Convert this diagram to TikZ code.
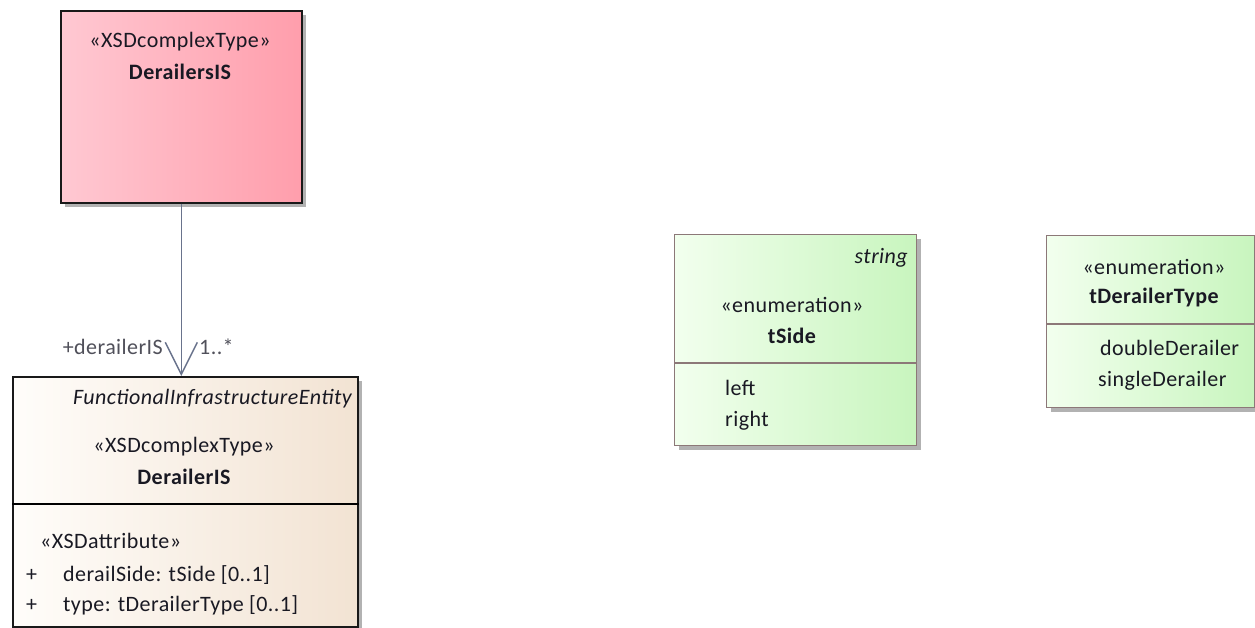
\documentclass[tikz,border=0pt]{standalone}
\usepackage{fontspec}
\setmainfont{Carlito}[LetterSpace=2]
\usetikzlibrary{arrows.meta,shadows}
\definecolor{pinkL}{RGB}{255,200,210}
\definecolor{pinkR}{RGB}{255,158,172}
\definecolor{beigeL}{RGB}{255,253,250}
\definecolor{beigeR}{RGB}{242,227,211}
\definecolor{greenL}{RGB}{242,255,238}
\definecolor{greenR}{RGB}{200,245,190}
\definecolor{enumBorder}{RGB}{140,120,120}
\definecolor{connCol}{RGB}{105,115,140}
\definecolor{lblCol}{RGB}{80,80,90}
\definecolor{txtCol}{RGB}{25,25,35}
\tikzset{
  umlbox/.style={draw=black!90, line width=1.6pt, inner sep=0pt, anchor=north west,
    drop shadow={shadow xshift=4pt, shadow yshift=-4pt, fill=black!30, opacity=1}},
  enumbox/.style={umlbox, draw=enumBorder, line width=1.4pt, left color=greenL, right color=greenR},
  divider/.style={line width=1.4pt},
  txt/.style={inner sep=0pt, text=txtCol, font=\fontsize{22}{26}\selectfont},
  btxt/.style={txt, font=\fontsize{22}{26}\selectfont\bfseries},
  itxt/.style={txt, font=\fontsize{22}{26}\selectfont\itshape},
  lbl/.style={inner sep=0pt, text=lblCol, font=\fontsize{22}{26}\selectfont},
  conn/.style={draw=connCol, line width=1.5pt, -{Straight Barb[length=32pt,width=32pt,line width=1.5pt]}},
}
\begin{document}
\begin{tikzpicture}[x=1pt,y=-1pt]
\useasboundingbox (0,0) rectangle (1255,628);
\clip (0,0) rectangle (1255,628);
\fill[white] (0,0) rectangle (1255,628);

% DerailersIS
\node[umlbox, left color=pinkL, right color=pinkR, minimum width=241pt, minimum height=192pt] (dsis) at (60,10) {};
\node[txt] (dsisSt) at (180,42) {«XSDcomplexType»};
\node[btxt] (dsisNm) at (180,72) {DerailersIS};

% DerailerIS
\node[umlbox, left color=beigeL, right color=beigeR, minimum width=345pt, minimum height=250pt] (dis) at (12,376) {};
\node[itxt, anchor=east] (disPar) at (352,399) {FunctionalInfrastructureEntity};
\node[txt] (disSt) at (184,447) {«XSDcomplexType»};
\node[btxt] (disNm) at (184,477) {DerailerIS};
\draw[divider] (dis.west |- 0,504) -- (dis.east |- 0,504);
\node[txt, anchor=west] (disAttSt) at (40,541) {«XSDattribute»};
\node[txt, anchor=west] (disP1) at (26,575) {+};
\node[txt, anchor=west] (disA1) at (63,575) {derailSide: tSide [0..1]};
\node[txt, anchor=west] (disP2) at (26,605) {+};
\node[txt, anchor=west] (disA2) at (63,605) {type: tDerailerType [0..1]};

% connector
\draw[conn] (dsis.south) -- (dsis.south |- dis.north);
\node[lbl, anchor=east] (roleLbl) at (163,347) {+derailerIS};
\node[lbl, anchor=west] (multLbl) at (199,347) {1..*};

% tSide
\node[enumbox, minimum width=242pt, minimum height=211pt] (ts) at (674,234) {};
\node[itxt, anchor=east] (tsPar) at (908,258) {string};
\node[txt] (tsSt) at (792,305) {«enumeration»};
\node[btxt] (tsNm) at (792,336) {tSide};
\draw[divider, draw=enumBorder] (ts.west |- 0,363) -- (ts.east |- 0,363);
\node[txt, anchor=west] (tsL1) at (725,388) {left};
\node[txt, anchor=west] (tsL2) at (725,421) {right};

% tDerailerType
\node[enumbox, minimum width=208pt, minimum height=172pt] (tdt) at (1046,235) {};
\node[txt] (tdtSt) at (1154,267) {«enumeration»};
\node[btxt] (tdtNm) at (1154,298) {tDerailerType};
\draw[divider, draw=enumBorder] (tdt.west |- 0,324) -- (tdt.east |- 0,324);
\node[txt, anchor=west] (tdtL1) at (1100,348) {doubleDerailer};
\node[txt, anchor=west] (tdtL2) at (1098,381) {singleDerailer};
\end{tikzpicture}
\end{document}
